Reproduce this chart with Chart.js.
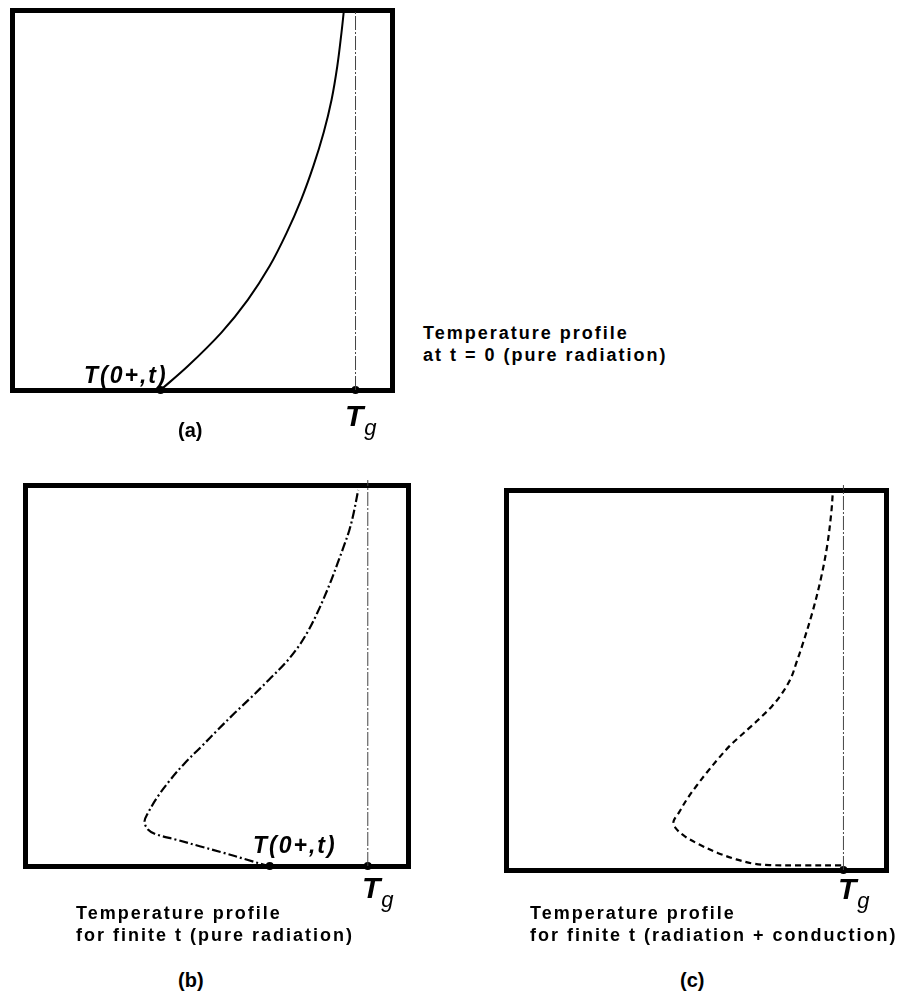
<!DOCTYPE html>
<html>
<head>
<meta charset="utf-8">
<script src="https://cdn.jsdelivr.net/npm/chart.js@4.4.1/dist/chart.umd.min.js"></script>
<style>
  html, body { margin: 0; padding: 0; background: #fff; }
  body { width: 906px; height: 1002px; position: relative; overflow: hidden; }
  canvas { position: absolute; }
  .lbl { position: absolute; white-space: nowrap; color: #000; line-height: 1; font-family: "Liberation Sans", Arial, sans-serif; }
  .t0 { font-style: italic; font-weight: bold; font-size: 23px; letter-spacing: 2px; }
  .tg { font-style: italic; font-weight: bold; font-size: 30px; }
  .tg .sub { font-weight: normal; font-size: 22px; position: relative; top: 9px; margin-left: 1px; }
  .cap { font-weight: bold; font-size: 18px; line-height: 22px; letter-spacing: 2px; }
  .tag { font-size: 20px; font-weight: bold; }
</style>
</head>
<body>
<script>
// x = temperature, normalised across the box (0 = left wall, 1 = right wall)
// y = distance from the surface, normalised (0 = bottom, 1 = top)

// (a) t = 0, pure radiation
const tgA = 0.904;
const t0A = 0.391;
const tempA = [0.391, 0.463, 0.551, 0.621, 0.678, 0.723, 0.761, 0.793, 0.820, 0.841, 0.856, 0.867, 0.873];
const distA = [0.000, 0.063, 0.151, 0.238, 0.326, 0.414, 0.501, 0.589, 0.677, 0.764, 0.852, 0.940, 0.995];

// (b) finite t, pure radiation
const tgB = 0.895;
const t0B = 0.639;
const tempB = [0.639, 0.622, 0.578, 0.517, 0.456, 0.395, 0.343, 0.321, 0.312, 0.321, 0.347, 0.380, 0.417,
               0.461, 0.504, 0.548, 0.593, 0.637, 0.680, 0.714, 0.741, 0.763, 0.782, 0.800, 0.816, 0.832,
               0.847, 0.858, 0.870];
const distB = [0.000, 0.004, 0.017, 0.035, 0.052, 0.069, 0.083, 0.096, 0.117, 0.139, 0.183, 0.227, 0.270,
               0.314, 0.358, 0.402, 0.445, 0.489, 0.533, 0.576, 0.620, 0.664, 0.707, 0.751, 0.794, 0.838,
               0.882, 0.926, 0.987];

// (c) finite t, radiation + conduction
const tgC = 0.888;
const tempC = [0.882, 0.781, 0.693, 0.650, 0.606, 0.557, 0.509, 0.470, 0.446, 0.441, 0.455, 0.476, 0.501, 0.528,
               0.557, 0.588, 0.616, 0.645, 0.674, 0.700, 0.721, 0.738, 0.752, 0.764, 0.779, 0.806, 0.828,
               0.845, 0.856, 0.860];
const distC = [0.012, 0.012, 0.013, 0.017, 0.028, 0.045, 0.067, 0.089, 0.111, 0.128, 0.151, 0.186, 0.221, 0.256,
               0.291, 0.326, 0.352, 0.378, 0.405, 0.431, 0.457, 0.483, 0.510, 0.545, 0.589, 0.677, 0.764,
               0.852, 0.940, 0.993];

// top end of the thin T_g reference line in each panel
const tgTop = [1.0, 1.013, 1.013];

const captions = [
  ['Temperature profile', 'at t = 0 (pure radiation)'],
  ['Temperature profile', 'for finite t (pure radiation)'],
  ['Temperature profile', 'for finite t (radiation + conduction)']
];
const tags = ['(a)', '(b)', '(c)'];

// ---------- layout (page pixels) ----------
const PAD = 10;
const panels = [
  { left: 12, top: 10, w: 380, h: 380, temp: tempA, dist: distA, tg: tgA, t0: t0A, dash: [] },
  { left: 25, top: 485, w: 383, h: 381, temp: tempB, dist: distB, tg: tgB, t0: t0B, dash: [9, 3, 2, 3] },
  { left: 506, top: 490, w: 380, h: 380, temp: tempC, dist: distC, tg: tgC, t0: null, dash: [6, 4] }
];

const zip = (xs, ys) => xs.map((x, i) => ({ x, y: ys[i] }));

const axis = (position) => ({
  type: 'linear', position, min: 0, max: 1,
  ticks: { display: false },
  grid: { display: false, drawTicks: false, tickLength: 0, lineWidth: 5 },
  border: { display: true, width: 5, color: '#000' }
});

panels.forEach((p, i) => {
  const cv = document.createElement('canvas');
  cv.width = p.w + 2 * PAD;
  cv.height = p.h + 2 * PAD;
  cv.style.left = (p.left - PAD) + 'px';
  cv.style.top = (p.top - PAD) + 'px';
  document.body.appendChild(cv);

  const dots = [{ x: p.tg, y: 0 }];
  if (p.t0 !== null) dots.unshift({ x: p.t0, y: 0 });

  new Chart(cv, {
    type: 'scatter',
    data: {
      datasets: [
        { // T_g reference line
          data: [{ x: p.tg, y: 0 }, { x: p.tg, y: tgTop[i] }],
          showLine: true, borderColor: '#444', borderWidth: 1,
          borderDash: [14, 2, 2, 2], pointRadius: 0, clip: false
        },
        { // temperature profile
          data: zip(p.temp, p.dist),
          showLine: true, borderColor: '#000', borderWidth: i === 0 ? 2 : 2.2,
          borderDash: p.dash, tension: 0.35, pointRadius: 0, clip: false
        },
        { // T(0+,t) and T_g markers
          data: dots, pointRadius: 4, pointBackgroundColor: '#000',
          pointBorderWidth: 0, clip: false
        }
      ]
    },
    options: {
      responsive: false,
      animation: false,
      events: [],
      layout: { padding: PAD },
      plugins: { legend: { display: false }, tooltip: { enabled: false } },
      scales: { x: axis('bottom'), x2: axis('top'), y: axis('left'), y2: axis('right') }
    }
  });
});

// ---------- labels ----------
const addLabel = (cls, html, left, top) => {
  const d = document.createElement('div');
  d.className = 'lbl ' + cls;
  d.innerHTML = html;
  d.style.left = left + 'px';
  d.style.top = top + 'px';
  document.body.appendChild(d);
};

addLabel('t0', 'T(0+,t)', 84, 364);
addLabel('t0', 'T(0+,t)', 253, 834);

addLabel('tg', 'T<span class="sub">g</span>', 345, 401);
addLabel('tg', 'T<span class="sub">g</span>', 362, 873);
addLabel('tg', 'T<span class="sub">g</span>', 838, 874);

addLabel('cap', captions[0].join('<br>'), 423, 322);
addLabel('cap', captions[1].join('<br>'), 76, 902);
addLabel('cap', captions[2].join('<br>'), 530, 902);

addLabel('tag', tags[0], 178, 420);
addLabel('tag', tags[1], 178, 970);
addLabel('tag', tags[2], 680, 970);
</script>
</body>
</html>
